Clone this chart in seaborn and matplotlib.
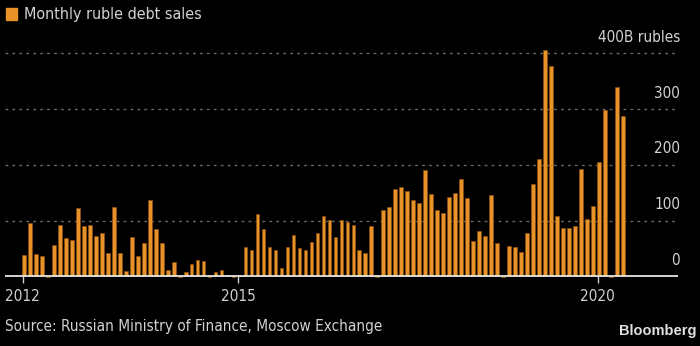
import matplotlib
matplotlib.use("Agg")
import matplotlib.pyplot as plt
import seaborn as sns
import pandas as pd

# ---- data ----
years = list(range(2012, 2021))
sales_2012 = [38, 96, 40, 37, -2, 56, 92, 68, 65, 123, 90, 92]
sales_2013 = [72, 78, 42, 125, 42, 10, 71, 37, 59, 137, 85, 59]
sales_2014 = [12, 25, -2, 8, 22, 30, 28, -2, 8, 12, 2, -2]
sales_2015 = [3, 53, 48, 111, 85, 53, 48, 14, 53, 75, 51, 48]
sales_2016 = [62, 78, 109, 101, 71, 101, 98, 92, 48, 41, 90, -2]
sales_2017 = [119, 125, 157, 161, 153, 137, 132, 191, 147, 119, 113, 143]
sales_2018 = [149, 175, 141, 63, 81, 72, 146, 60, -2, 54, 52, 44]
sales_2019 = [78, 166, 211, 406, 377, 108, 86, 86, 90, 193, 102, 126]
sales_2020 = [205, 299, -2, 340, 287]
x_tick_labels = ["2012", "2015", "2020"]
y_ticks = [0, 100, 200, 300, 400]
y_tick_labels = ["0", "100", "200", "300", "400B rubles"]

values = (sales_2012 + sales_2013 + sales_2014 + sales_2015 + sales_2016
          + sales_2017 + sales_2018 + sales_2019 + sales_2020)
months = pd.date_range("2012-01-01", periods=len(values), freq="MS")
df = pd.DataFrame({"month": months.strftime("%Y-%m"), "sales": values})

# ---- style ----
sns.set_style("dark")
plt.rcParams["font.family"] = ["DejaVu Sans"]
plt.rcParams["font.stretch"] = "condensed"
BG = "#000000"
ORANGE = "#E8922A"
TXT = "#d2d2d2"
FS = 11

fig = plt.figure(figsize=(7.0, 3.46), dpi=100, facecolor=BG)
ax = fig.add_axes([5 / 700, 56 / 346, 673 / 700, 250 / 346])
ax.set_facecolor(BG)

sns.barplot(data=df, x="month", y="sales", color=ORANGE, width=0.62,
            edgecolor="#8a4f12", linewidth=0.5, saturation=1, ax=ax)

ax.set_xlim(-3.16, 109.2)
ax.set_ylim(-24.6, 424.2)

ax.spines["bottom"].set_position(("data", 0))
for s in ax.spines.values():
    s.set_visible(False)
ax.grid(False)

# gridlines
for v in y_ticks[1:]:
    ax.axhline(v, color="#6a6a6a", linestyle=(0, (2, 3)), linewidth=1.0, zorder=0)
ax.axhline(0, color="#e6e6e6", linewidth=1.3, zorder=3)

# x ticks
tick_pos = [months.get_loc(pd.Timestamp(f"{y}-01-01")) - 0.2 for y in (2012, 2015, 2020)]
ax.set_xticks(tick_pos)
ax.set_xticklabels(x_tick_labels)
ax.tick_params(axis="x", colors="#cfcfcf", length=5, width=1, direction="out",
               pad=4, labelsize=FS, labelcolor=TXT, bottom=True)
ax.set_yticks([])
ax.set_xlabel("")
ax.set_ylabel("")

# y labels inside on the right, above gridlines
for v, lab in zip(y_ticks, y_tick_labels):
    ax.annotate(lab, xy=(1, v), xycoords=("axes fraction", "data"),
                xytext=(1.5, 11.5), textcoords="offset points",
                ha="right", va="center", color=TXT, fontsize=FS)

# legend / title
fig.patches.append(plt.Rectangle((6 / 700, 1 - 20 / 346), 11 / 700, 12 / 346,
                                 transform=fig.transFigure, color=ORANGE))
fig.text(24 / 700, 1 - 14 / 346, "Monthly ruble debt sales", color=TXT,
         fontsize=FS + 0.5, ha="left", va="center")

fig.text(5 / 700, 1 - 327 / 346, "Source: Russian Ministry of Finance, Moscow Exchange",
         color=TXT, fontsize=FS, ha="left", va="center")
fig.text(697 / 700, 1 - 331 / 346, "Bloomberg", color="#e0e0e0", fontsize=10.5,
         fontweight="bold", family=["Liberation Sans", "DejaVu Sans"],
         stretch="normal", ha="right", va="center")

fig.savefig("out.png", dpi=100, facecolor=BG)
